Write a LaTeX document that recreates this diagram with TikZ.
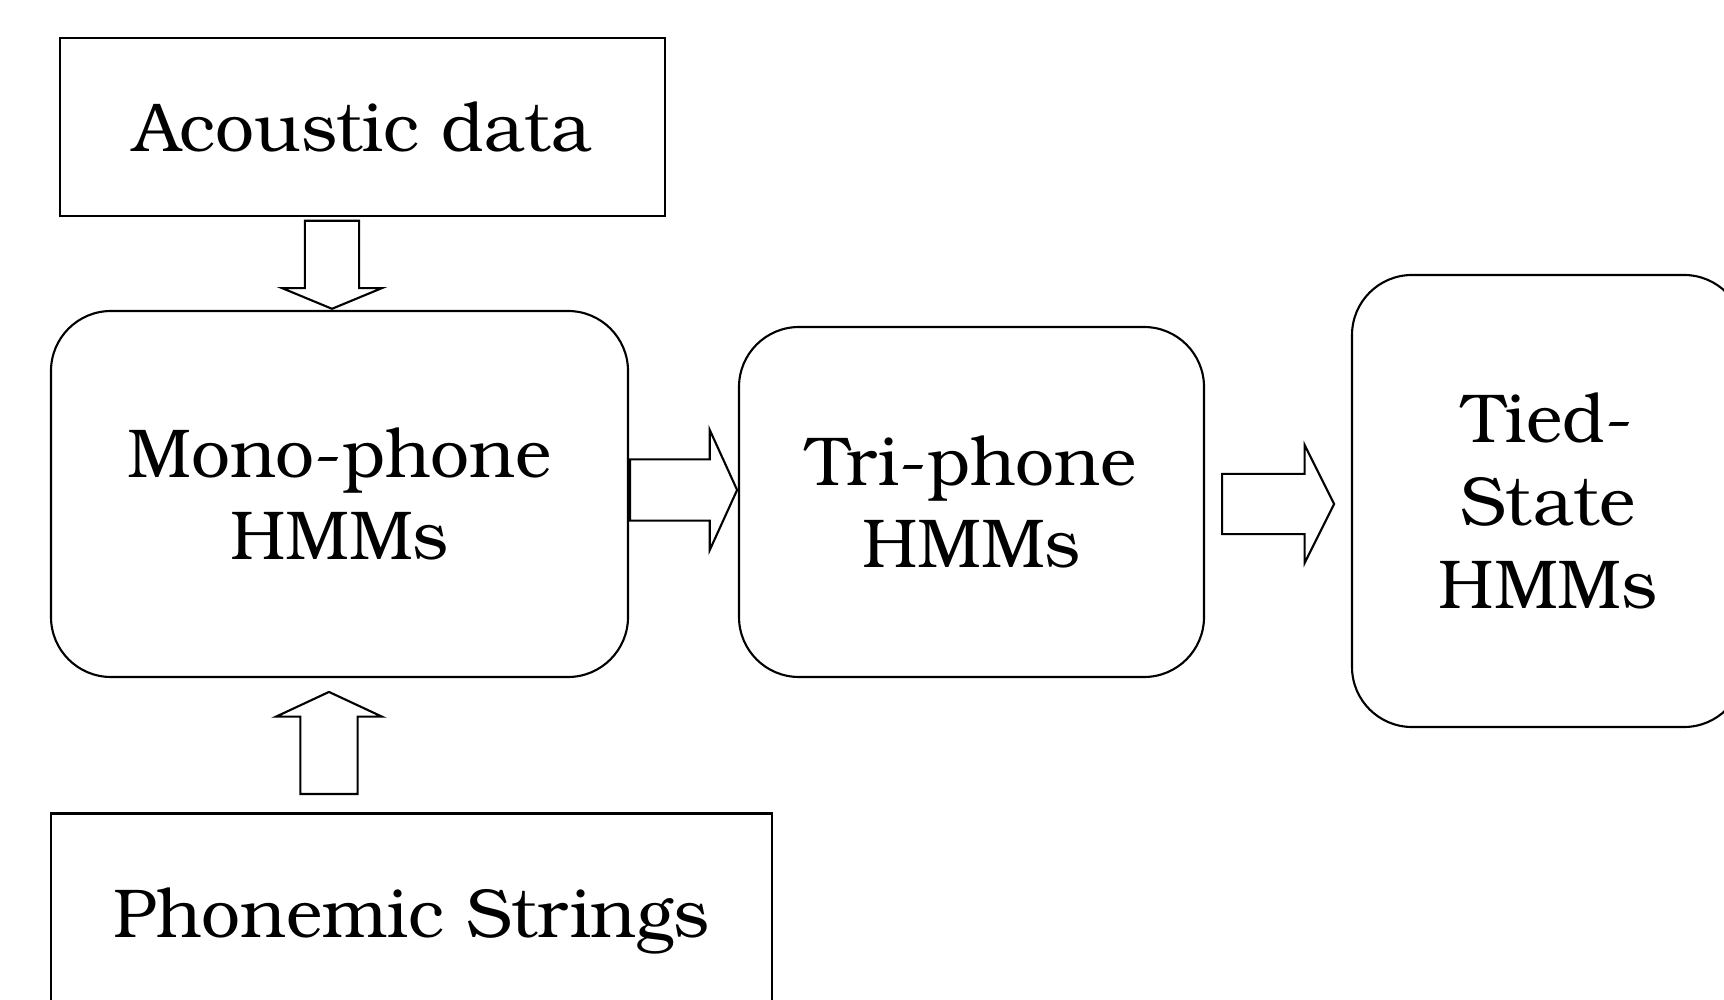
\documentclass[tikz,border=0pt]{standalone}
\usepackage{fontspec}
\setmainfont{TeX Gyre Bonum}
\usepackage{tikz}
\usetikzlibrary{shapes.arrows}

\begin{document}
\begin{tikzpicture}[
  box/.style={draw, line width=0.6pt, align=center, inner sep=0pt,
    font=\fontsize{19.7}{23.5}\selectfont},
  roundbox/.style={box, rounded corners=0.6cm},
  blockarrow/.style={single arrow, draw, line width=0.6pt, inner sep=0.26cm,
    single arrow head extend=0.26cm}
]
\path[use as bounding box, clip] (0,0) rectangle (17.24,-10);

\node[box, minimum width=6.05cm, minimum height=1.78cm] (acoustic) at (3.625,-1.27) {Acoustic data};
\node[roundbox, minimum width=5.77cm, minimum height=3.66cm] (mono) at (3.395,-4.94) {Mono-phone\\HMMs};
\node[roundbox, minimum width=4.65cm, minimum height=3.50cm] (tri) at (9.715,-5.02) {Tri-phone\\HMMs};
\node[roundbox, minimum width=3.92cm, minimum height=4.52cm] (tied) at (15.48,-5.01) {Tied-\\State\\HMMs};
\node[box, minimum width=7.21cm, minimum height=2.15cm] (phonemic) at (4.115,-9.21) {Phonemic Strings};

% block arrows between the boxes
\node[blockarrow, shape border rotate=270, minimum height=0.88cm, minimum width=1.0cm,
  inner sep=0.25cm, single arrow head extend=0.22cm, single arrow tip angle=135,
  anchor=tip] (acoustic-mono) at ([xshift=-0.075cm]mono.north) {};
\node[blockarrow, shape border rotate=90, minimum height=1.02cm, minimum width=1.06cm,
  single arrow head extend=0.23cm, single arrow tip angle=130, anchor=tail] (phonemic-mono) at (3.29,-7.95) {};
\node[blockarrow, minimum height=1.07cm, minimum width=1.20cm,
  single arrow tip angle=131, anchor=tail] (mono-tri) at ([yshift=0.04cm]mono.east) {};
\node[blockarrow, minimum height=1.12cm, minimum width=1.18cm,
  single arrow tip angle=127, anchor=tail] (tri-tied) at (12.21,-5.04) {};

\end{tikzpicture}
\end{document}
